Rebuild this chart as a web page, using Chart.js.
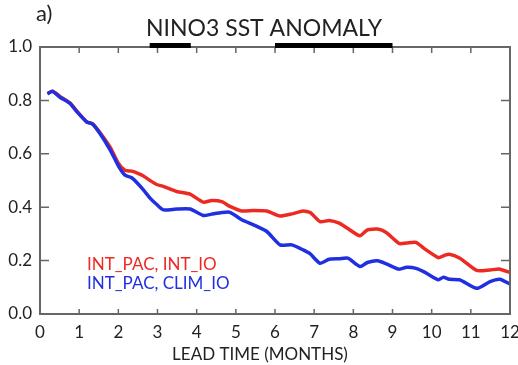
<!DOCTYPE html>
<html lang="en">
<head>
<meta charset="UTF-8">
<title>NINO3 SST Anomaly</title>
<style>
  body { margin: 0; background: #fff; }
  #wrap { width: 518px; height: 365px; }
</style>
</head>
<body>
<div id="wrap"><canvas id="chart" width="518" height="365"></canvas></div>
<script src="https://cdn.jsdelivr.net/npm/chart.js"></script>
<script>
// lead time in months
const leadTime = [0.19, 0.32, 0.51, 0.77, 0.94, 1.19, 1.34, 1.53, 1.79, 2.0,
  2.17, 2.34, 2.5, 2.64, 2.81, 2.98, 3.15, 3.49, 3.83, 4.17,
  4.38, 4.64, 4.85, 5.15, 5.45, 5.79, 6.13, 6.43, 6.72, 6.9,
  7.15, 7.38, 7.64, 7.86, 8.17, 8.36, 8.62, 8.84, 9.17, 9.36,
  9.6, 9.83, 10.17, 10.3, 10.45, 10.72, 11.15, 11.49, 11.74, 12.0];
const intPacIntIo = [0.825, 0.834, 0.815, 0.79, 0.76, 0.72, 0.713, 0.68, 0.625, 0.565,
  0.538, 0.535, 0.527, 0.517, 0.50, 0.485, 0.478, 0.459, 0.449, 0.419,
  0.425, 0.421, 0.403, 0.386, 0.388, 0.386, 0.367, 0.375, 0.386, 0.38,
  0.346, 0.35, 0.34, 0.32, 0.293, 0.315, 0.318, 0.305, 0.264, 0.266,
  0.268, 0.243, 0.211, 0.218, 0.224, 0.209, 0.163, 0.165, 0.168, 0.155];
const intPacClimIo = [0.825, 0.834, 0.812, 0.788, 0.758, 0.72, 0.711, 0.676, 0.615, 0.555,
  0.52, 0.51, 0.488, 0.465, 0.434, 0.41, 0.39, 0.393, 0.393, 0.369,
  0.374, 0.38, 0.381, 0.353, 0.334, 0.309, 0.259, 0.259, 0.24, 0.225,
  0.19, 0.205, 0.207, 0.209, 0.178, 0.193, 0.199, 0.188, 0.168, 0.175,
  0.171, 0.156, 0.128, 0.138, 0.13, 0.128, 0.096, 0.121, 0.13, 0.112];
// black bars along the top axis (lead-time ranges)
const topBars = [[2.8, 3.85], [6.0, 9.0]];

const FONT = "Lato, 'Open Sans', sans-serif";
const TEXT = '#222';
const AXIS = '#666';

const frame = {
  id: 'frame',
  afterDraw(chart) {
    const { ctx, chartArea: a, scales: { x, y } } = chart;
    ctx.save();
    ctx.strokeStyle = AXIS;
    ctx.lineWidth = 2;
    ctx.strokeRect(a.left, a.top, a.right - a.left, a.bottom - a.top);
    ctx.lineWidth = 1.5;
    ctx.beginPath();
    for (let m = 1; m < 12; m++) {
      const px = x.getPixelForValue(m);
      ctx.moveTo(px, a.bottom); ctx.lineTo(px, a.bottom - 5);
      ctx.moveTo(px, a.top); ctx.lineTo(px, a.top + 6);
    }
    for (let v = 0.2; v < 0.99; v += 0.2) {
      const py = y.getPixelForValue(v);
      ctx.moveTo(a.left, py); ctx.lineTo(a.left + 9, py);
      ctx.moveTo(a.right, py); ctx.lineTo(a.right - 9, py);
    }
    ctx.stroke();

    // black bars on top
    ctx.fillStyle = '#000';
    topBars.forEach(([s, e]) => {
      const x0 = x.getPixelForValue(s), x1 = x.getPixelForValue(e);
      ctx.fillRect(x0, a.top - 4, x1 - x0, 5);
    });

    // titles
    ctx.fillStyle = TEXT;
    ctx.textBaseline = 'alphabetic';
    ctx.textAlign = 'center';
    ctx.font = '23px ' + FONT;
    ctx.fillText('NINO3 SST ANOMALY', 264, 36);
    ctx.font = '17px ' + FONT;
    ctx.fillText('LEAD TIME (MONTHS)', 260, 360);
    ctx.textAlign = 'left';
    ctx.font = '22px ' + FONT;
    ctx.fillText('a)', 36, 21);

    // legend as coloured text
    ctx.font = '17px ' + FONT;
    chart.data.datasets.forEach((ds, i) => {
      ctx.fillStyle = ds.borderColor;
      ctx.fillText(ds.label, 87, 270 + i * 19);
    });
    ctx.restore();
  }
};

new Chart(document.getElementById('chart'), {
  type: 'line',
  data: {
    labels: leadTime,
    datasets: [{
      label: 'INT_PAC, INT_IO',
      data: intPacIntIo,
      borderColor: '#ec2a22',
      borderWidth: 3.5,
      pointRadius: 0,
      tension: 0.2,
      order: 1
    }, {
      label: 'INT_PAC, CLIM_IO',
      data: intPacClimIo,
      borderColor: '#2030e0',
      borderWidth: 3.5,
      pointRadius: 0,
      tension: 0.2,
      order: 0
    }]
  },
  options: {
    responsive: false,
    animation: false,
    layout: { padding: { top: 47, right: 8, bottom: 0, left: 0 } },
    plugins: { legend: { display: false }, tooltip: { enabled: false } },
    scales: {
      x: {
        type: 'linear',
        min: 0,
        max: 12,
        grid: { display: false, drawTicks: false },
        border: { display: false },
        ticks: { stepSize: 1, color: TEXT, font: { family: FONT, size: 17 }, padding: 8, maxRotation: 0 },
        afterFit(scale) {
          scale.height = 51;
          scale.paddingLeft = 0;
          scale.paddingRight = 0;
        }
      },
      y: {
        min: 0,
        max: 1,
        grid: { display: false, drawTicks: false },
        border: { display: false },
        ticks: {
          stepSize: 0.2,
          color: TEXT,
          font: { family: FONT, size: 17 },
          padding: 8,
          callback: v => v.toFixed(1)
        },
        afterFit(scale) {
          scale.width = 40;
        }
      }
    }
  },
  plugins: [frame]
});
</script>
</body>
</html>
